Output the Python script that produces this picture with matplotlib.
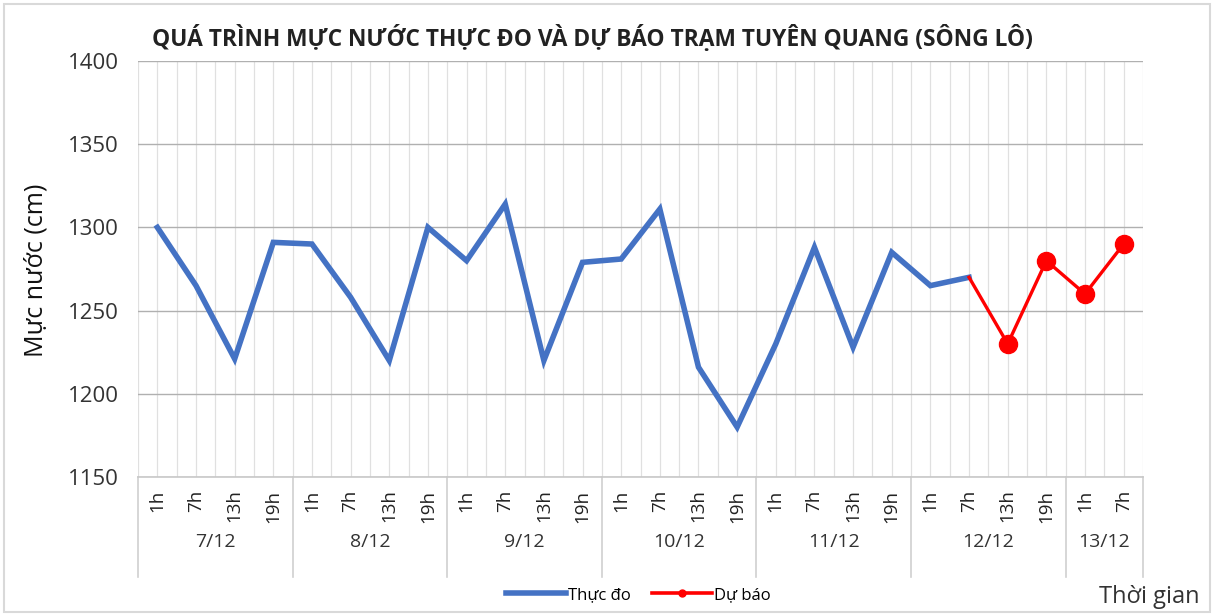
import numpy as np
import matplotlib.pyplot as plt
import matplotlib.transforms as mtransforms
from matplotlib.lines import Line2D
from matplotlib.patches import Rectangle

plt.rcParams['font.family'] = ['Open Sans', 'DejaVu Sans']

# Data
days = ['7/12', '8/12', '9/12', '10/12', '11/12', '12/12', '13/12']
hours_per_day = [4, 4, 4, 4, 4, 4, 2]
hour_labels = ['1h', '7h', '13h', '19h'] * 6 + ['1h', '7h']

thuc_do = [1300, 1265, 1221, 1291,
           1290, 1258, 1220, 1300,
           1280, 1314, 1220, 1279,
           1281, 1311, 1216, 1180,
           1230, 1288, 1228, 1285,
           1265, 1270]
du_bao = [1270, 1230, 1280, 1260, 1290]   # from 12/12 7h to 13/12 7h

x_obs = np.arange(len(thuc_do))
x_fc = np.arange(len(thuc_do) - 1, len(thuc_do) - 1 + len(du_bao))

fig = plt.figure(figsize=(12.14, 6.14), dpi=100)
ax = fig.add_axes([0.1137, 0.2231, 0.8278, 0.6776])

ax.plot(x_obs, thuc_do, color='#4472C4', lw=4.0, solid_joinstyle='miter', zorder=3)
ax.plot(x_fc, du_bao, color='#FF0000', lw=2.4, zorder=4)
ax.plot(x_fc[1:], du_bao[1:], ls='none', marker='o', ms=13, color='#FF0000', zorder=5)

n = len(hour_labels)
ax.set_xlim(-0.5, n - 0.5)
ax.set_ylim(1150, 1400)
ax.set_yticks(np.arange(1150, 1401, 50))
ax.set_xticks(np.arange(n))
ax.set_xticklabels(hour_labels, rotation=90, fontsize=13.5, color='#222222')
ax.set_xticks(np.arange(n + 1) - 0.5, minor=True)
ax.tick_params(axis='x', which='both', length=0, pad=9)
ax.tick_params(axis='y', length=0, labelsize=16, pad=14, labelcolor='#333333')

ax.grid(axis='y', color='#b0b0b0', lw=1.0)
ax.grid(axis='x', which='both', color='#e0e0e0', lw=0.9)
ax.set_axisbelow(True)
for s in ['top', 'right', 'left']:
    ax.spines[s].set_visible(False)
ax.spines['bottom'].set_color('#c8c8c8')
ax.spines['bottom'].set_linewidth(1.2)

# day groups below the axis
trans = mtransforms.blended_transform_factory(ax.transData, ax.transAxes)
start = 0
bounds = [-0.5]
for day, cnt in zip(days, hours_per_day):
    ax.text(start + (cnt - 1) / 2, -0.155, day, transform=trans, ha='center',
            va='center', fontsize=14, color='#333333')
    start += cnt
    bounds.append(start - 0.5)
for b in bounds:
    ax.plot([b, b], [0, -0.24], transform=trans, color='#d0d0d0', lw=1.2, clip_on=False)

fig.text(0.03, 0.559, 'Mực nước (cm)', rotation=90, ha='center', va='center',
         fontsize=18, color='#111111')

fig.text(0.488, 0.938, 'QUÁ TRÌNH MỰC NƯỚC THỰC ĐO VÀ DỰ BÁO TRẠM TUYÊN QUANG (SÔNG LÔ)',
         ha='center', va='center', fontsize=16.4, fontweight='bold', color='#222222')
fig.text(0.988, 0.028, 'Thời gian', ha='right', va='center', fontsize=17, color='#333333')

handles = [Line2D([], [], color='#4472C4', lw=4.0),
           Line2D([], [], color='#FF0000', lw=2.6, marker='o', ms=5)]
fig.legend(handles, ['Thực đo', 'Dự báo'], loc='center', bbox_to_anchor=(0.526, 0.031),
           ncol=2, frameon=False, fontsize=12, handlelength=3.6, handletextpad=0.1,
           columnspacing=1.3)

fig.patches.append(Rectangle((0.003, 0.004), 0.994, 0.99, transform=fig.transFigure,
                             fill=False, edgecolor='#d9d9d9', lw=1.5))

fig.savefig('out.png', dpi=100)
